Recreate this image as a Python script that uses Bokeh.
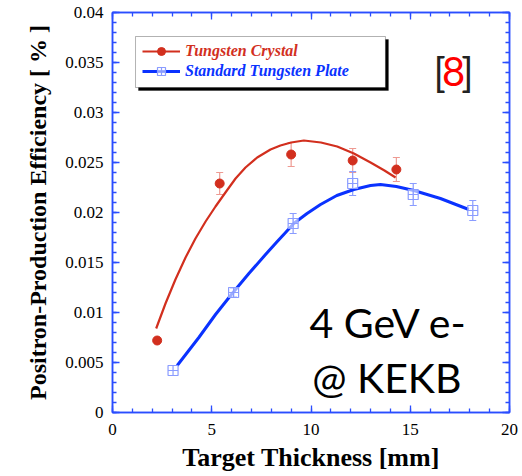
from bokeh.plotting import figure
from bokeh.models import (Range1d, LinearAxis, FixedTicker, Whisker, TeeHead,
                          ColumnDataSource, Legend, LegendItem, BoxAnnotation, Label)
from bokeh.embed import file_html
from bokeh.resources import INLINE
import numpy as np

# ---- data ----
crystal_x = [2.25, 5.4, 9.0, 12.1, 14.3]
crystal_y = [0.0072, 0.0229, 0.0258, 0.0252, 0.0243]
crystal_err = [0.0, 0.0011, 0.0012, 0.0012, 0.0012]

plate_x = [3.05, 6.1, 9.1, 12.1, 15.15, 18.15]
plate_y = [0.0042, 0.0120, 0.0189, 0.0229, 0.0218, 0.0202]
plate_err = [0.0, 0.0004, 0.0010, 0.0012, 0.0011, 0.0010]

# fitted curves
crystal_fit_x = [2.20, 2.67, 3.17, 3.68, 4.18, 4.69, 5.19, 5.69, 6.2, 6.7, 7.29,
                 7.96, 8.46, 9.0, 9.64, 10.5, 11.32, 12.16, 13.0, 13.7, 14.26]
crystal_fit_y = [0.0084, 0.0109, 0.0133, 0.0155, 0.0174, 0.0191, 0.0206, 0.0220,
                 0.0234, 0.0245, 0.0255, 0.0263, 0.0267, 0.0270, 0.0272, 0.0270,
                 0.0266, 0.0259, 0.0250, 0.0242, 0.0235]

plate_fit_x = [3.26, 4.35, 5.19, 6.03, 6.87, 7.71, 8.3, 8.72, 9.13, 9.8, 10.48,
               11.3, 12.16, 13.0, 13.5, 14.3, 15.18, 16.52, 17.95]
plate_fit_y = [0.0047, 0.0075, 0.0098, 0.0119, 0.0139, 0.0158, 0.0171, 0.0180,
               0.0189, 0.0199, 0.0208, 0.0217, 0.0223, 0.0227, 0.0228, 0.0226,
               0.0222, 0.0214, 0.0203]

x_ticks = [0, 5, 10, 15, 20]
x_tick_labels = ["0", "5", "10", "15", "20"]
y_ticks = [0, 0.005, 0.01, 0.015, 0.02, 0.025, 0.03, 0.035, 0.04]
y_tick_labels = ["0", "0.005", "0.01", "0.015", "0.02", "0.025", "0.03", "0.035", "0.04"]

series_names = ["Tungsten Crystal", "Standard Tungsten Plate"]

RED = "#d22f1e"
RED_LIGHT = "#ee9a92"
BLUE = "#0a32ff"
BLUE_MARK = "#8a9cff"
AXIS_BLUE = "#2a4dff"
SERIF = "Liberation Serif"

p = figure(width=522, height=476, output_backend="svg", toolbar_location=None,
           x_range=Range1d(0, 20), y_range=Range1d(0, 0.04),
           min_border_left=112, min_border_right=13, min_border_top=12,
           min_border_bottom=64)
p.grid.visible = False
p.outline_line_color = AXIS_BLUE
p.outline_line_width = 1.5
p.background_fill_color = "white"
p.border_fill_color = "white"

x_minor = list(np.arange(0, 21, 1))
y_minor = [round(v, 4) for v in np.arange(0, 0.0401, 0.001)]

def style_axis(ax, ticks, minor, labels, show):
    ax.ticker = FixedTicker(ticks=ticks, minor_ticks=minor)
    ax.axis_line_color = AXIS_BLUE
    ax.axis_line_width = 1.5
    ax.major_tick_line_color = AXIS_BLUE
    ax.minor_tick_line_color = AXIS_BLUE
    ax.major_tick_line_width = 1.3
    ax.minor_tick_line_width = 1.3
    ax.major_tick_in = 7
    ax.major_tick_out = 0
    ax.minor_tick_in = 4
    ax.minor_tick_out = 0
    if show:
        ax.major_label_overrides = {t: l for t, l in zip(ticks, labels)}
        ax.major_label_text_font = SERIF
        ax.major_label_text_font_size = "17px"
        ax.major_label_text_color = "black"
        ax.axis_label_text_font = SERIF
        ax.axis_label_text_font_style = "bold"
        ax.axis_label_text_color = "black"
    else:
        ax.major_label_overrides = {t: "" for t in ticks}
        ax.major_label_text_font_size = "1px"
        ax.major_label_standoff = 0

style_axis(p.xaxis[0], x_ticks, x_minor, x_tick_labels, True)
style_axis(p.yaxis[0], y_ticks, y_minor, y_tick_labels, True)
p.xaxis.axis_label = "Target Thickness [mm]"
p.xaxis.axis_label_text_font_size = "26px"
p.xaxis.major_label_standoff = 11
p.xaxis.axis_label_standoff = 5
p.yaxis.axis_label = "Positron-Production Efficiency [ % ]"
p.yaxis.axis_label_text_font_size = "24px"
p.yaxis.major_label_standoff = 9
p.yaxis.axis_label_standoff = 11

top_ax = LinearAxis()
right_ax = LinearAxis()
style_axis(top_ax, x_ticks, x_minor, x_tick_labels, False)
style_axis(right_ax, y_ticks, y_minor, y_tick_labels, False)
p.add_layout(top_ax, "above")
p.add_layout(right_ax, "right")

# legend box with shadow (decoration)
p.add_layout(BoxAnnotation(left=1.31, right=13.90, top=0.0373, bottom=0.0322,
                           fill_color="black", fill_alpha=1, line_color="black", level="overlay"))
p.add_layout(BoxAnnotation(left=1.16, right=13.75, top=0.0376, bottom=0.0325,
                           fill_color="white", fill_alpha=1, line_color="black",
                           line_width=1, level="overlay"))

# curves
red_line = p.line(crystal_fit_x, crystal_fit_y, line_color=RED, line_width=2.2,
                  line_join="round")
blue_line = p.line(plate_fit_x, plate_fit_y, line_color=BLUE, line_width=3,
                   line_join="round")

# error bars
src_c = ColumnDataSource(dict(x=crystal_x, y=crystal_y,
                              upper=[y + e for y, e in zip(crystal_y, crystal_err)],
                              lower=[y - e for y, e in zip(crystal_y, crystal_err)]))
src_p = ColumnDataSource(dict(x=plate_x, y=plate_y,
                              upper=[y + e for y, e in zip(plate_y, plate_err)],
                              lower=[y - e for y, e in zip(plate_y, plate_err)]))
for src, col in ((src_c, RED_LIGHT), (src_p, BLUE_MARK)):
    p.add_layout(Whisker(source=src, base="x", upper="upper", lower="lower",
                         line_color=col, line_width=1.2,
                         upper_head=TeeHead(size=7, line_color=col, line_width=1.2),
                         lower_head=TeeHead(size=7, line_color=col, line_width=1.2)))

red_pts = p.scatter("x", "y", source=src_c, marker="circle", size=9,
                    fill_color=RED, line_color=RED)
blue_pts = p.scatter("x", "y", source=src_p, marker="square_cross", size=10,
                     fill_color="white", fill_alpha=0.6, line_color=BLUE_MARK, line_width=1.2)

def make_legend(item, color, loc):
    lg = Legend(items=[item], location=loc, border_line_color=None,
                background_fill_alpha=0, padding=0, margin=0, spacing=0,
                label_text_font=SERIF, label_text_font_style="bold italic",
                label_text_font_size="16px", label_text_color=color,
                glyph_width=38, glyph_height=20, label_height=20, label_standoff=5)
    lg.level = "overlay"
    return lg

p.add_layout(make_legend(LegendItem(label=series_names[0], renderers=[red_line, red_pts]), RED, (30, 351)))
p.add_layout(make_legend(LegendItem(label=series_names[1], renderers=[blue_line, blue_pts]), BLUE, (30, 331)))

# annotation texts
p.add_layout(Label(x=16.17, y=0.0341, text="[", text_font="Lato", text_font_size="40px",
                   text_color="#222222", text_align="left", text_baseline="alphabetic"))
p.add_layout(Label(x=17.18, y=0.0341, text="8", text_font="Lato", text_font_size="40px",
                   text_color="#ff0000", text_align="center", text_baseline="alphabetic"))
p.add_layout(Label(x=18.19, y=0.0341, text="]", text_font="Lato", text_font_size="40px",
                   text_color="#222222", text_align="right", text_baseline="alphabetic"))
p.add_layout(Label(x=9.92, y=0.009, text="4 GeV e-", text_font="Lato", text_font_size="41px",
                   text_color="black", text_baseline="alphabetic"))
p.add_layout(Label(x=10.06, y=0.0035, text="@ KEKB", text_font="Lato", text_font_size="41px",
                   text_color="black", text_baseline="alphabetic"))

open("out.html", "w").write(file_html(p, INLINE))
